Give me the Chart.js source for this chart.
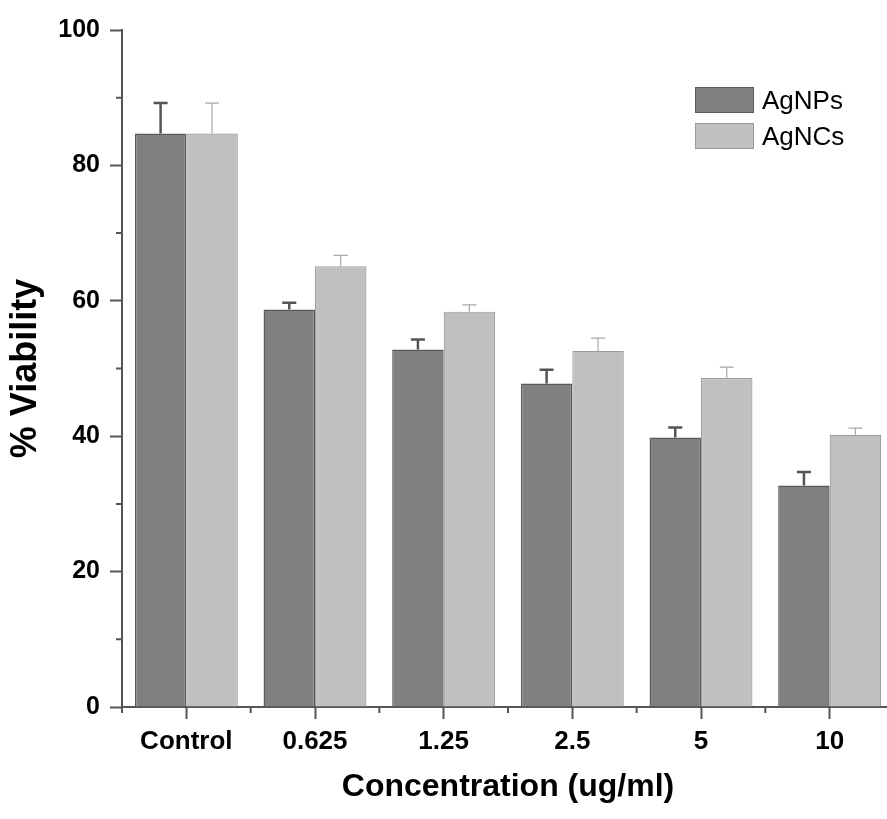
<!DOCTYPE html>
<html lang="en">
  <head>
    <meta charset="UTF-8" />
    <title>% Viability</title>
    <style>
      html, body { margin: 0; padding: 0; background: #fff; overflow: hidden; }
      .wrap { position: relative; width: 894px; height: 819px; }
      #chart { position: absolute; left: 0; top: 0; }
      .legend { position: absolute; left: 695px; top: 87px; font-family: "Liberation Sans", Arial, sans-serif; font-size: 26px; color: #000; }
      .legend-item { display: flex; align-items: center; height: 26px; margin-bottom: 10px; }
      .legend-box { width: 57px; height: 24px; margin-right: 8px; box-sizing: content-box; }
    </style>
  </head>
  <body>
    <div class="wrap">
      <canvas id="chart" width="894" height="819"></canvas>
      <div class="legend" id="legend"></div>
    </div>

    <script src="https://cdn.jsdelivr.net/npm/chart.js"></script>
    <script>
      const categories = ["Control", "0.625", "1.25", "2.5", "5", "10"];
      const agnps = [84.7, 58.7, 52.8, 47.8, 39.8, 32.7];
      const agncs = [84.7, 65.1, 58.4, 52.6, 48.6, 40.2];
      const agnpsErr = [4.5, 1.0, 1.5, 2.0, 1.5, 2.0];
      const agncsErr = [4.5, 1.6, 1.0, 1.9, 1.6, 1.0];
      const seriesNames = ["AgNPs", "AgNCs"];

      const fontFamily = "'Liberation Sans', Arial, sans-serif";
      const axisColor = "#555555";

      // upward error bars
      const errorBars = {
        id: "errorBars",
        afterDatasetsDraw(chart) {
          const ctx = chart.ctx;
          const y = chart.scales.y;
          chart.data.datasets.forEach((ds, i) => {
            const meta = chart.getDatasetMeta(i);
            ctx.save();
            ctx.strokeStyle = ds.errColor;
            ctx.lineWidth = ds.errWidth;
            meta.data.forEach((bar, j) => {
              const top = y.getPixelForValue(ds.data[j] + ds.errors[j]);
              ctx.beginPath();
              ctx.moveTo(bar.x, bar.y);
              ctx.lineTo(bar.x, top);
              ctx.moveTo(bar.x - 7, top);
              ctx.lineTo(bar.x + 7, top);
              ctx.stroke();
            });
            ctx.restore();
          });
        },
      };

      // short minor ticks between the labelled ones
      const minorTicks = {
        id: "minorTicks",
        afterDraw(chart) {
          const ctx = chart.ctx;
          const { x, y } = chart.scales;
          ctx.save();
          ctx.strokeStyle = axisColor;
          ctx.lineWidth = 2;
          ctx.beginPath();
          [10, 30, 50, 70, 90].forEach((v) => {
            const py = y.getPixelForValue(v);
            ctx.moveTo(y.right - 6, py);
            ctx.lineTo(y.right, py);
          });
          for (let i = 0; i <= categories.length; i++) {
            const px = x.getPixelForValue(i - 0.5);
            ctx.moveTo(px, x.top);
            ctx.lineTo(px, x.top + 6);
          }
          ctx.stroke();
          ctx.restore();
        },
      };

      const chart = new Chart(document.getElementById("chart"), {
        type: "bar",
        data: {
          labels: categories,
          datasets: [
            {
              label: seriesNames[0],
              data: agnps,
              errors: agnpsErr,
              backgroundColor: "#808080",
              borderColor: "#5a5a5a",
              borderWidth: 1.5,
              errColor: "#555555",
              errWidth: 2.5,
            },
            {
              label: seriesNames[1],
              data: agncs,
              errors: agncsErr,
              backgroundColor: "#c0c0c0",
              borderColor: "#9c9c9c",
              borderWidth: 1.2,
              errColor: "#a8a8a8",
              errWidth: 1.2,
            },
          ],
        },
        options: {
          responsive: false,
          animation: false,
          categoryPercentage: 0.8,
          barPercentage: 1.0,
          layout: { padding: { top: 30, left: 0, right: 0, bottom: 0 } },
          plugins: { legend: { display: false }, tooltip: { enabled: false } },
          scales: {
            x: {
              afterFit: (s) => { s.height = 112; },
              grid: {
                offset: false,
                drawOnChartArea: false,
                tickLength: 12,
                tickColor: axisColor,
                tickWidth: 2,
              },
              border: { display: true, color: axisColor, width: 2 },
              ticks: {
                padding: 7,
                color: "#000",
                font: { family: fontFamily, size: 26, weight: "bold" },
              },
              title: {
                display: true,
                text: "Concentration (ug/ml)",
                color: "#000",
                padding: { top: 0, bottom: 13 },
                font: { family: fontFamily, size: 32, weight: "bold" },
              },
            },
            y: {
              min: 0,
              max: 100,
              afterFit: (s) => { s.width = 122; },
              ticks: {
                stepSize: 20,
                padding: 10,
                color: "#000",
                font: { family: fontFamily, size: 25, weight: "bold" },
              },
              grid: {
                drawOnChartArea: false,
                tickLength: 12,
                tickColor: axisColor,
                tickWidth: 2,
              },
              border: { display: true, color: axisColor, width: 2 },
              title: {
                display: true,
                text: "% Viability",
                color: "#000",
                padding: { top: 4, bottom: 0 },
                font: { family: fontFamily, size: 36, weight: "bold" },
              },
            },
          },
        },
        plugins: [errorBars, minorTicks],
      });

      // legend in html
      const legend = document.getElementById("legend");
      chart.data.datasets.forEach((ds) => {
        const item = document.createElement("div");
        item.className = "legend-item";
        const box = document.createElement("span");
        box.className = "legend-box";
        box.style.background = ds.backgroundColor;
        box.style.border = "1px solid " + ds.borderColor;
        const text = document.createElement("span");
        text.textContent = ds.label;
        item.appendChild(box);
        item.appendChild(text);
        legend.appendChild(item);
      });
    </script>
  </body>
</html>
